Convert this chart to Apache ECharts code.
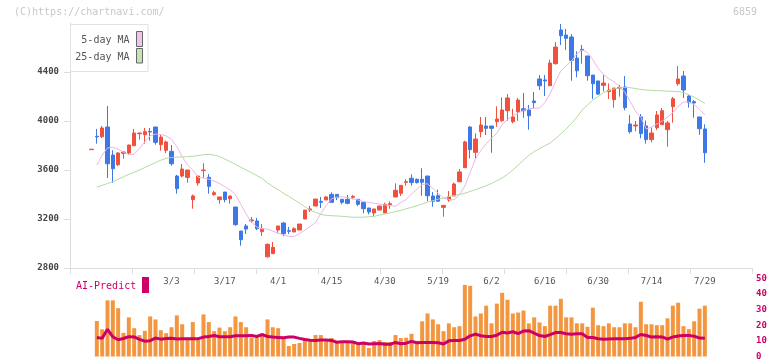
<!DOCTYPE html>
<html>
<head>
<meta charset="utf-8">
<script src="https://cdn.jsdelivr.net/npm/echarts@6/dist/echarts.min.js"></script>
<style>
html, body { margin: 0; padding: 0; background: #fff; }
#main { width: 772px; height: 361px; }
</style>
</head>
<body>
<div id="main"></div>
<script>
// trading days shown on the chart
var dates = ['2/6','2/7','2/10','2/12','2/13','2/14','2/17','2/18','2/19','2/20',
  '2/21','2/25','2/26','2/27','2/28','3/3','3/4','3/5','3/6','3/7',
  '3/10','3/11','3/12','3/13','3/14','3/17','3/18','3/19','3/21','3/24',
  '3/25','3/26','3/27','3/28','3/31','4/1','4/2','4/3','4/4','4/7',
  '4/8','4/9','4/10','4/11','4/14','4/15','4/16','4/17','4/18','4/21',
  '4/22','4/23','4/24','4/25','4/28','4/30','5/1','5/7','5/8','5/9',
  '5/12','5/13','5/14','5/15','5/16','5/19','5/20','5/21','5/22','5/23',
  '5/26','5/27','5/28','5/29','5/30','6/2','6/3','6/4','6/5','6/6',
  '6/9','6/10','6/11','6/12','6/13','6/16','6/17','6/18','6/19','6/20',
  '6/23','6/24','6/25','6/26','6/27','6/30','7/1','7/2','7/3','7/4',
  '7/7','7/8','7/9','7/10','7/11','7/14','7/15','7/16','7/17','7/18',
  '7/22','7/23','7/24','7/25','7/28','7/29'];

var dateLabels = ['3/3','3/17','4/1','4/15','4/30','5/19','6/2','6/16','6/30','7/14','7/29'];

// [open, close, low, high]
var candles = [
  [3766,3770,3766,3770],[3875,3870,3815,3935],[3872,3943,3861,3959],[3951,3651,3535,4122],[3722,3611,3496,3761],
  [3643,3739,3632,3745],[3736,3747,3692,3750],[3739,3804,3725,3806],[3798,3902,3798,3935],[3896,3902,3848,3905],
  [3888,3913,3815,3943],[3915,3910,3839,3943],[3951,3826,3807,3951],[3807,3869,3758,3888],[3761,3829,3739,3839],
  [3752,3651,3635,3804],[3551,3448,3407,3560],[3551,3608,3540,3649],[3540,3600,3496,3600],[3358,3388,3284,3400],
  [3494,3551,3472,3551],[3595,3600,3535,3655],[3540,3467,3407,3567],[3399,3415,3390,3431],[3358,3380,3325,3380],
  [3420,3358,3336,3420],[3366,3388,3325,3388],[3298,3154,3145,3298],[3102,3031,2982,3102],[3143,3118,3078,3159],
  [3184,3192,3170,3217],[3184,3121,3110,3208],[3097,3121,3061,3159],[2892,2993,2884,3001],[2917,2969,2917,3012],
  [3110,3143,3083,3143],[3167,3080,3059,3176],[3105,3100,3078,3135],[3094,3121,3094,3132],[3110,3159,3110,3159],
  [3200,3273,3200,3273],[3273,3282,3257,3306],[3306,3363,3306,3363],[3344,3336,3290,3380],[3355,3380,3355,3388],
  [3401,3336,3336,3418],[3401,3374,3355,3401],[3361,3336,3320,3361],[3361,3328,3320,3396],[3377,3385,3361,3396],
  [3361,3320,3306,3361],[3336,3284,3246,3336],[3290,3257,3238,3290],[3249,3282,3219,3282],[3273,3306,3273,3306],
  [3249,3320,3249,3333],[3317,3325,3284,3344],[3380,3434,3380,3491],[3410,3475,3388,3475],[3499,3505,3472,3524],
  [3532,3497,3472,3565],[3524,3497,3490,3530],[3524,3500,3390,3614],[3551,3390,3345,3551],[3388,3345,3300,3420],
  [3390,3345,3345,3440],[3295,3311,3219,3311],[3355,3380,3340,3428],[3388,3486,3388,3497],[3504,3584,3504,3608],
  [3619,3829,3619,3839],[3951,3766,3695,3959],[3744,3853,3695,3900],[3913,3967,3867,4033],[3959,3940,3886,4033],
  [3959,3940,3741,3959],[3994,4016,3953,4120],[4002,4090,3994,4193],[4084,4188,4002,4220],[3994,4033,3981,4100],
  [4076,4171,4002,4188],[4100,4084,4027,4229],[4090,4043,3929,4131],[4163,4150,4103,4237],[4343,4288,4253,4375],
  [4335,4327,4204,4375],[4288,4473,4288,4501],[4468,4604,4460,4645],[4743,4696,4620,4792],[4702,4675,4580,4751],
  [4686,4495,4329,4710],[4514,4410,4357,4569],[4585,4577,4468,4620],[4531,4370,4329,4531],[4375,4304,4180,4375],
  [4327,4220,4212,4327],[4291,4310,4242,4375],[4239,4253,4180,4307],[4174,4269,4109,4269],[4267,4275,4199,4294],
  [4278,4109,4087,4367],[3976,3913,3897,4049],[3959,3967,3916,4000],[4033,3897,3859,4057],[3960,3848,3815,4004],
  [3848,3902,3826,3945],[3945,4049,3927,4082],[3970,4084,3970,4106],[3929,3984,3790,4000],[4117,4182,3986,4196],
  [4304,4343,4288,4449],[4367,4253,4188,4408],[4204,4150,4109,4210],[4158,4147,4027,4171],[4033,3937,3888,4033],
  [3935,3741,3659,3973]
];

var ma5 = ['-', 3640, 3720, 3780, 3785, 3770, 3745, 3725, 3730, 3775, 3830,
  3880, 3893, 3890, 3878, 3850, 3790, 3710, 3640, 3600, 3540,
  3535, 3525, 3510, 3490, 3465, 3437, 3400, 3320, 3240, 3175,
  3135, 3120, 3118, 3100, 3085, 3070, 3058, 3058, 3080, 3110,
  3140, 3170, 3245, 3310, 3365, 3378, 3382, 3375, 3365, 3355,
  3343, 3335, 3328, 3322, 3315, 3308, 3305, 3335, 3360, 3405,
  3442, 3480, 3488, 3450, 3410, 3370, 3360, 3356, 3400, 3470,
  3580, 3690, 3760, 3815, 3860, 3900, 3970, 4010, 4045, 4065,
  4085, 4100, 4104, 4105, 4150, 4225, 4320, 4410, 4450, 4490,
  4550, 4580, 4560, 4500, 4430, 4380, 4345, 4320, 4280, 4235,
  4160, 4080, 4030, 3935, 3950, 3975, 4000, 4030, 4070, 4120,
  4155, 4155, 4135, 4095, 4049];

var ma25 = ['-', 3460, 3475, 3490, 3505, 3525, 3545, 3565, 3582, 3600, 3620,
  3640, 3660, 3680, 3695, 3702, 3705, 3707, 3709, 3712, 3718,
  3725, 3728, 3722, 3710, 3690, 3668, 3645, 3622, 3600, 3578,
  3555, 3530, 3495, 3465, 3440, 3410, 3385, 3358, 3330, 3300,
  3273, 3255, 3238, 3230, 3227, 3225, 3222, 3218, 3215, 3214,
  3215, 3218, 3222, 3232, 3242, 3250, 3260, 3270, 3283, 3295,
  3308, 3322, 3338, 3350, 3362, 3372, 3383, 3392, 3400, 3410,
  3425, 3440, 3455, 3472, 3490, 3512, 3535, 3565, 3600, 3640,
  3680, 3720, 3750, 3775, 3798, 3820, 3855, 3895, 3935, 3980,
  4030, 4090, 4130, 4170, 4200, 4232, 4250, 4262, 4270, 4275,
  4272, 4265, 4258, 4253, 4250, 4248, 4246, 4244, 4242, 4240,
  4232, 4215, 4195, 4170, 4144];

var volume = ['-', 22.7, 17.4, 35.9, 35.9, 30.9, 15.1, 25, 18.1, 13.7, 16.4,
  25.6, 23.7, 16.8, 14.9, 18.7, 26.3, 20.6, 11.8, 22, 11.8,
  26.9, 22, 16.2, 18.5, 16.2, 18.7, 25.6, 22, 18.7, 11.8,
  11.8, 14.9, 23.7, 18.7, 18.1, 11.8, 6.7, 8, 8.6, 11.8,
  9.9, 13.7, 13.7, 9.9, 11.8, 8.6, 8.6, 9.9, 9.9, 8.6,
  8, 5.5, 9.9, 10.5, 9.3, 9.3, 13.7, 11.8, 12, 14.5,
  10, 22.5, 27.5, 23.7, 20.6, 16.2, 21.2, 18.7, 19.4, 45.8,
  45.2, 25.6, 27.5, 32.5, 21.2, 33.8, 40.7, 36.3, 27.5, 28.1,
  29.4, 21.2, 25, 21.8, 19.4, 32.5, 32.5, 36.9, 25, 25,
  21.2, 21.2, 19, 31.2, 20, 19.4, 21.2, 18.7, 18.7, 21.2,
  21.2, 18.7, 35, 20.6, 20.6, 20, 20, 24.4, 32.5, 34.4,
  19.4, 17.5, 22.5, 30.6, 32.5];

var aiPredict = ['-', 12.2, 11.6, 17.4, 12.5, 10.7, 11.5, 12.7, 12.5, 11, 9.8,
  10.1, 11.8, 11.1, 11.5, 11.6, 11.2, 11.4, 11.4, 11.4, 11.4,
  12.4, 12.8, 13.4, 12.6, 12.6, 12.6, 13.3, 13.3, 13.3, 13.4,
  12.8, 14, 12.8, 12.4, 12.2, 12, 12.4, 12.4, 11.6, 10.9,
  10.4, 10.3, 10.5, 10.5, 10.3, 9.1, 9.5, 9.5, 9.3, 8.2,
  8.6, 8, 8.2, 8.3, 7.8, 7.8, 9, 8.2, 8.5, 9.7,
  8.8, 9, 9, 9, 8.8, 8, 10, 10.3, 10.2, 11,
  13.2, 14.3, 13.3, 12.8, 12.8, 13.6, 15.5, 15, 15.8, 14.6,
  16.3, 16.5, 14.9, 13.4, 12.8, 14, 15.3, 15.3, 14.5, 14.3,
  14.6, 14.5, 12.2, 12.2, 11.4, 11.1, 11.2, 11.3, 11.3, 11.4,
  11.6, 12.2, 14.1, 13.4, 12.5, 12.6, 12.5, 11.1, 12.5, 13.1,
  13.5, 13.5, 13, 11.8, 11.6];

var priceTicks = [2800, 3200, 3600, 4000, 4400];

var mono = 'DejaVu Sans Mono';
var frameColor = '#dddddd';
var up = '#f0503c', down = '#3d78e6';

var myChart = echarts.init(document.getElementById('main'));

var option = {
    animation: false,
    backgroundColor: '#fff',
    grid: [
        { left: 70, top: 23, width: 682, height: 245 },
        { left: 88.83, top: 23, width: 618.67, height: 245 },
        { left: 88.83, top: 278.3, width: 618.67, height: 79.4 }
    ],
    xAxis: [
        {
            gridIndex: 0, type: 'value', min: 0, max: 11, interval: 1,
            axisLine: { lineStyle: { color: frameColor, width: 1 } },
            axisTick: { show: true, length: 6, lineStyle: { color: frameColor } },
            axisLabel: { show: false },
            splitLine: { show: false }
        },
        {
            gridIndex: 1, type: 'category', data: dates,
            axisLine: { show: false },
            axisTick: { show: false },
            axisLabel: {
                interval: function (index, value) { return dateLabels.indexOf(value) >= 0; },
                margin: 9, color: '#555', fontFamily: mono, fontSize: 9
            }
        },
        { gridIndex: 2, type: 'category', data: dates, show: false }
    ],
    yAxis: [
        {
            gridIndex: 0, type: 'value', min: 2800, max: 4800,
            axisLine: { show: true, lineStyle: { color: frameColor, width: 1 } },
            axisTick: { show: true, length: 6, customValues: priceTicks, lineStyle: { color: frameColor } },
            axisLabel: {
                customValues: priceTicks, margin: 11, color: '#444', fontFamily: mono, fontSize: 9, fontWeight: 'bold',
                formatter: function (v) { return String(v); }
            },
            splitLine: { show: false }
        },
        { gridIndex: 1, type: 'value', min: 2800, max: 4800, show: false },
        {
            gridIndex: 2, type: 'value', min: 0, max: 50, interval: 10,
            position: 'right', offset: 44.5,
            axisLine: { show: false }, axisTick: { show: false }, splitLine: { show: false },
            axisLabel: { margin: 4, color: '#cc0066', fontFamily: mono, fontSize: 9, fontWeight: 'bold' }
        }
    ],
    graphic: [
        { type: 'text', x: 14, y: 12, z: 100, style: { text: '(C)https://chartnavi.com/', fill: '#c8c8c8', font: '10px "DejaVu Sans Mono"', verticalAlign: 'middle' } },
        { type: 'text', x: 757, y: 12, z: 100, style: { text: '6859', fill: '#c8c8c8', font: '10px "DejaVu Sans Mono"', align: 'right', verticalAlign: 'middle' } },
        { type: 'rect', z: 100, shape: { x: 70.5, y: 24.5, width: 77.5, height: 47 }, style: { fill: '#fff', stroke: '#e2e2e2', lineWidth: 1 } },
        { type: 'text', x: 129.5, y: 40, z: 101, style: { text: '5-day MA', fill: '#555', font: '10px "DejaVu Sans Mono"', align: 'right', verticalAlign: 'middle' } },
        { type: 'text', x: 129.5, y: 57, z: 101, style: { text: '25-day MA', fill: '#555', font: '10px "DejaVu Sans Mono"', align: 'right', verticalAlign: 'middle' } },
        { type: 'rect', z: 101, shape: { x: 136.5, y: 31.5, width: 6, height: 15 }, style: { fill: '#f0c2ee', stroke: '#666', lineWidth: 1 } },
        { type: 'rect', z: 101, shape: { x: 136.5, y: 48.5, width: 6, height: 14.5 }, style: { fill: '#c4e4b4', stroke: '#666', lineWidth: 1 } },
        { type: 'text', x: 76, y: 286, z: 100, style: { text: 'AI-Predict', fill: '#cc0066', font: '10px "DejaVu Sans Mono"', verticalAlign: 'middle' } },
        { type: 'rect', z: 100, shape: { x: 142, y: 277, width: 7, height: 16 }, style: { fill: '#cc0066' } }
    ],
    series: [
        {
            name: '25-day MA', type: 'line', xAxisIndex: 1, yAxisIndex: 1,
            data: ma25, symbol: 'none', silent: true,
            lineStyle: { color: '#b2dba2', width: 1 }
        },
        {
            name: '5-day MA', type: 'line', xAxisIndex: 1, yAxisIndex: 1,
            data: ma5, symbol: 'none', silent: true,
            lineStyle: { color: '#ebb6ea', width: 1 }
        },
        {
            name: 'price', type: 'candlestick', xAxisIndex: 1, yAxisIndex: 1,
            data: candles, barWidth: 4,
            itemStyle: { color: up, color0: down, borderColor: up, borderColor0: down, borderWidth: 1 }
        },
        {
            name: 'volume', type: 'bar', xAxisIndex: 2, yAxisIndex: 2,
            data: volume, barWidth: 4,
            itemStyle: { color: '#f2963f' }
        },
        {
            name: 'AI-Predict', type: 'line', xAxisIndex: 2, yAxisIndex: 2,
            data: aiPredict, symbol: 'none', silent: true,
            lineStyle: { color: '#cc0066', width: 3 }
        }
    ]
};
myChart.setOption(option);
</script>
</body>
</html>
